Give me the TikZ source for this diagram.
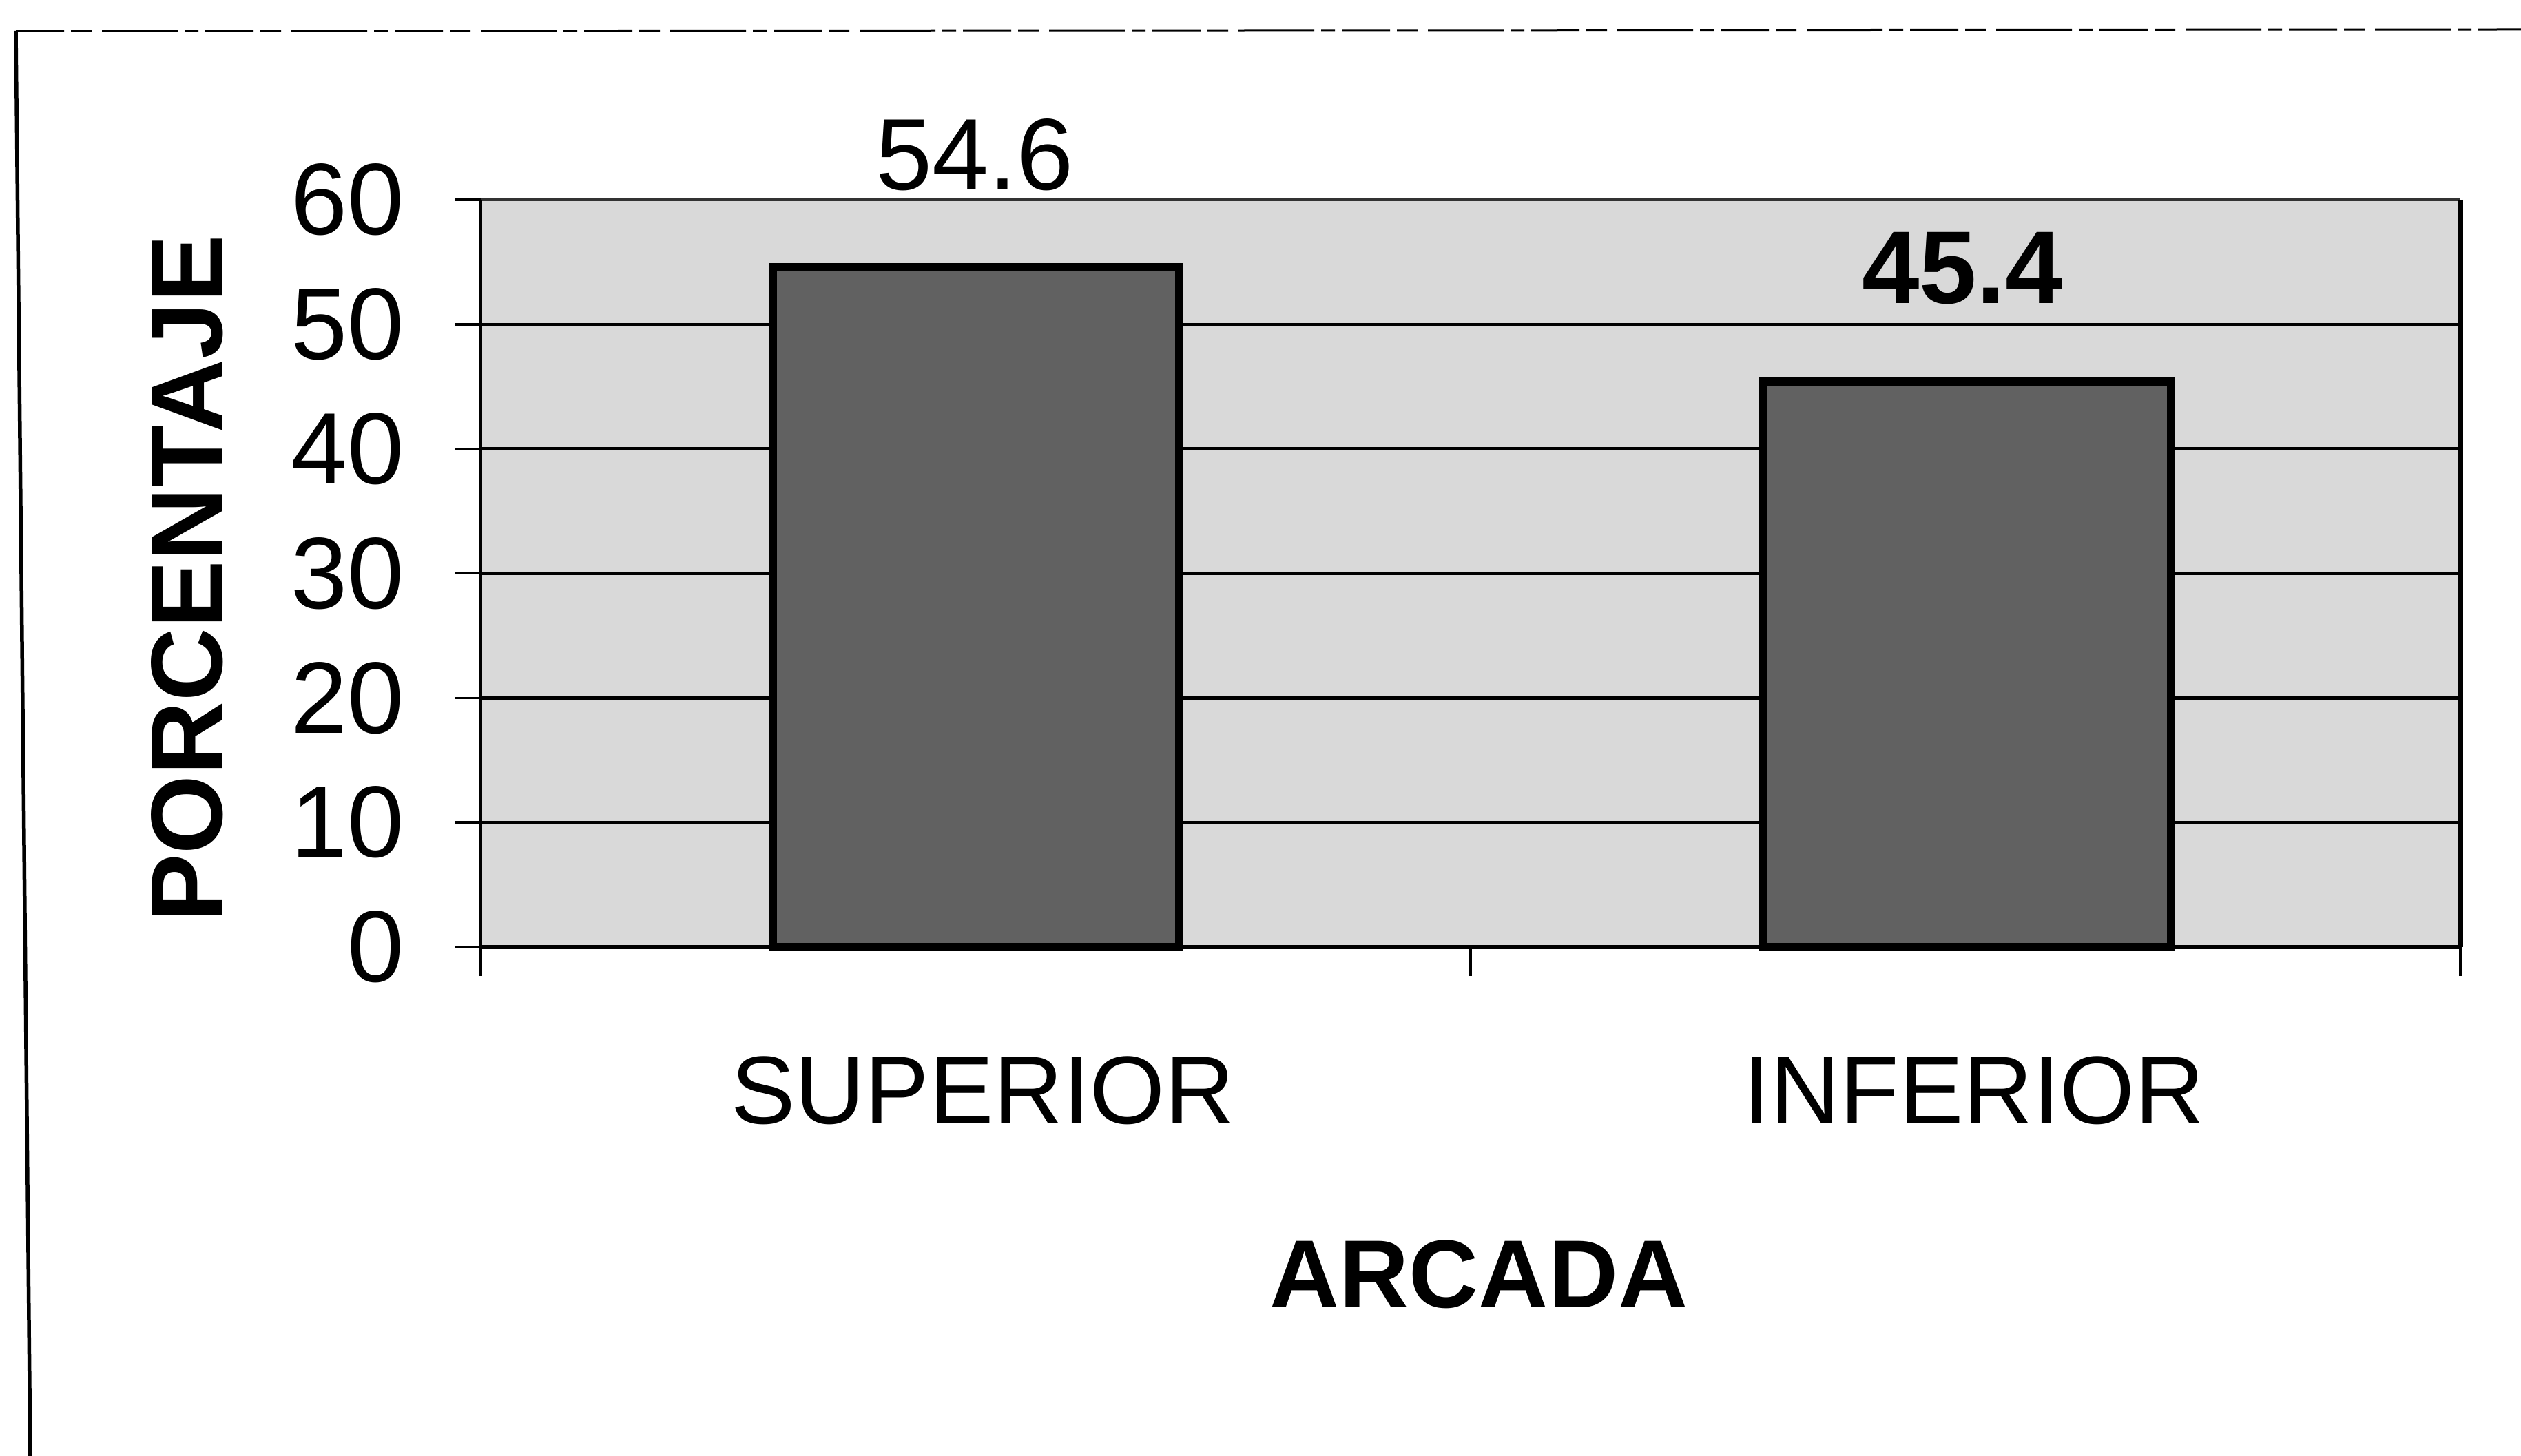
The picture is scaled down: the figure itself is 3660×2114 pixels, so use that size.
\documentclass[tikz,border=0pt]{standalone}
\usepackage{fontspec}
\setmainfont{Liberation Sans}
\begin{document}
\begin{tikzpicture}[x=0.2pt,y=-0.2pt,
  lbl/.style={inner sep=0pt,font=\fontsize{29.5}{35}\selectfont},
  catlbl/.style={inner sep=0pt,font=\fontsize{28}{34}\selectfont},
  blbl/.style={inner sep=0pt,font=\fontsize{30}{36}\selectfont\bfseries},
  titlelbl/.style={inner sep=0pt,font=\fontsize{28}{34}\selectfont\bfseries},
  ytitlelbl/.style={inner sep=0pt,font=\fontsize{29.5}{35}\selectfont\bfseries},
  grid/.style={line width=0.9pt,black},
  barbox/.style={fill=black!62,draw=black,line width=2.4pt},
  tickmark/.style={line width=0.7pt,black}]
\useasboundingbox (0,0) rectangle (3660,2114);
% frame of the figure
\draw[line width=0.6pt,dash pattern=on 14pt off 2pt on 6pt off 3pt on 22pt off 2pt on 4pt off 2pt] (23,45) -- (3660,43);
\draw[line width=1.1pt] (23,45) -- (44,2114);
% plot area
\fill[black!15] (698,290) rectangle (3572,1375);
\foreach \k in {1,...,5}{
  \draw[grid] (698,{1375-180.83*\k}) -- (3572,{1375-180.83*\k});
}
\draw[line width=0.9pt,black!80] (698,290) -- (3572,290);
\draw[line width=1.4pt] (3572,290) -- (3572,1375);
% y axis with ticks
\draw[line width=0.8pt] (698,290) -- (698,1375);
\foreach \k in {0,...,6}{
  \draw[tickmark] (660,{1375-180.83*\k}) -- (698,{1375-180.83*\k});
}
% bars
\draw[barbox] (1122,{1375-18.083*54.6}) rectangle (1712,1375);
\draw[barbox] (2559,{1375-18.083*45.4}) rectangle (3152,1375);
% x axis and ticks
\draw[line width=1.1pt] (698,1375) -- (3572,1375);
\foreach \x in {698,2135,3572}{
  \draw[tickmark] (\x,1375) -- (\x,1417);
}
% tick labels
\foreach \k in {0,...,6}{
  \node[lbl,anchor=east] (t\k) at (588,{1375-180.83*\k}) {\number\numexpr\k*10\relax};
}
% value labels
\node[lbl] (v1) at (1415,225) {54.6};
\node[blbl] (v2) at (2849,390) {45.4};
% category labels
\node[catlbl] (c1) at (1427,1583) {SUPERIOR};
\node[catlbl] (c2) at (2866,1583) {INFERIOR};
% axis titles
\node[titlelbl] (xt) at (2147,1850) {ARCADA};
\node[ytitlelbl,rotate=90] (yt) at (272,840) {PORCENTAJE};
\end{tikzpicture}
\end{document}
